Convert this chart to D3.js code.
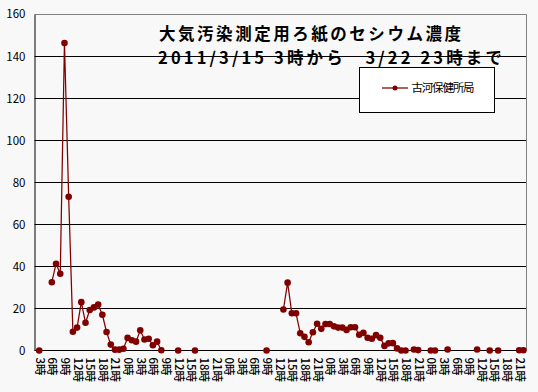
<!doctype html>
<meta charset="utf-8">
<head>
<script src="https://d3js.org/d3.v7.min.js"></script>
<style>
  body { margin: 0; background: #f8f8f8; }
  text { font-family: "Noto Sans CJK JP", sans-serif; }
</style>
</head>
<body>
<svg width="538" height="392"></svg>
<script>
    // hourly categories, 3/15 3時 onwards (null = no measurement)
    let startHour = 3;
    let seriesName = "古河保健所局";
    let titleLines = ["大気汚染測定用ろ紙のセシウム濃度", "2011/3/15 3時から　3/22 23時まで"];
    let yTicks = [0, 20, 40, 60, 80, 100, 120, 140, 160];

    let values = [
        0, null, null, 32.5, 41.3, 36.5, 146.3, 73.2, 8.9, 10.9,
        23, 13.2, 19.3, 20.5, 21.9, 17, 8.8, 2.8, 0.4, 0.4,
        0.8, 6, 4.9, 4.2, 9.6, 5.2, 5.6, 2.5, 4.2, 0.1,
        null, null, null, 0, null, null, null, 0, null, null,
        null, null, null, null, null, null, null, null, null, null,
        null, null, null, null, 0, null, null, null, 19.5, 32.3,
        17.7, 17.7, 8.2, 6.5, 3.9, 8.7, 12.7, 10.3, 12.6, 12.6,
        11.5, 10.9, 10.9, 9.8, 11.1, 11.1, 7.5, 8.4, 6.1, 5.6,
        7.3, 6.1, 2.2, 3.4, 3.5, 1.0, 0, 0, null, 0.5,
        0.2, null, null, 0, 0, null, null, 0.5, null, null,
        null, null, null, null, 0.5, null, null, 0, null, 0,
        null, null, null, null, 0.1, 0.1
    ];

    let categories = values.map((v, i) => i);
    let hourOf = (i) => (startHour + i) % 24;

    let svg = d3.select("svg");
    let plot = { left: 34.5, right: 526, top: 14.3, bottom: 350.5 };

    let x = d3.scalePoint()
        .domain(categories)
        .range([39.2, 523.4]);

    let y = d3.scaleLinear()
        .domain([0, 160])
        .range([plot.bottom, plot.top]);

    svg.append("rect")
        .attr("width", 538).attr("height", 392)
        .attr("fill", "#f8f8f8");

    // gridlines
    svg.append("g").selectAll("line")
        .data(yTicks.filter(t => t > 0 && t < 160))
        .enter().append("line")
        .attr("x1", plot.left).attr("x2", plot.right)
        .attr("y1", d => Math.round(y(d)) + 0.5)
        .attr("y2", d => Math.round(y(d)) + 0.5)
        .attr("stroke", "#000")
        .attr("stroke-width", 1);

    // plot border top/right (grey)
    svg.append("path")
        .attr("d", `M${plot.left} ${Math.round(plot.top) + 0.5} H${plot.right + 0.5} V${plot.bottom}`)
        .attr("fill", "none")
        .attr("stroke", "#808080");

    // y axis
    let yAxis = svg.append("g")
        .attr("transform", `translate(${plot.left},0)`)
        .call(d3.axisLeft(y).tickValues(yTicks).tickSize(0).tickPadding(9));
    yAxis.select(".domain").attr("stroke", "#000");
    yAxis.selectAll("text")
        .attr("font-size", 11.5)
        .attr("fill", "#000");

    // x axis
    let xAxis = svg.append("g")
        .attr("transform", `translate(0,${plot.bottom})`)
        .call(d3.axisBottom(x)
            .tickValues(categories.filter(i => i % 3 === 0))
            .tickFormat(i => hourOf(i) + "時")
            .tickSize(0));
    xAxis.select(".domain")
        .attr("d", `M${plot.left},0H${plot.right}`)
        .attr("stroke", "#000");
    xAxis.selectAll("text")
        .attr("font-size", 11.5)
        .attr("font-weight", 500)
        .attr("fill", "#000")
        .attr("x", 7)
        .attr("y", 0)
        .attr("dy", "0.35em")
        .attr("transform", "rotate(90)")
        .style("text-anchor", "start");

    // series
    let color = "#800000";
    let line = d3.line()
        .defined(d => d != null)
        .x((d, i) => x(i))
        .y(d => y(d));

    svg.append("path")
        .datum(values)
        .attr("fill", "none")
        .attr("stroke", color)
        .attr("stroke-width", 1.25)
        .attr("d", line);

    svg.append("g").selectAll("circle")
        .data(categories.filter(i => values[i] != null))
        .enter().append("circle")
        .attr("cx", i => x(i))
        .attr("cy", i => y(values[i]))
        .attr("r", 3.3)
        .attr("fill", color);

    // title
    let title = svg.append("g")
        .attr("font-weight", "bold")
        .attr("font-size", 16.5)
        .attr("fill", "#000");
    title.append("text")
        .attr("x", 159).attr("y", 40)
        .attr("textLength", 302)
        .attr("lengthAdjust", "spacing")
        .text(titleLines[0]);
    title.append("text")
        .attr("x", 158).attr("y", 64)
        .attr("textLength", 344)
        .attr("lengthAdjust", "spacing")
        .text(titleLines[1]);

    // legend
    let legend = svg.append("g").attr("transform", "translate(359.5,67.5)");
    legend.append("rect")
        .attr("width", 135).attr("height", 45)
        .attr("fill", "#fff")
        .attr("stroke", "#000");
    legend.append("line")
        .attr("x1", 22.5).attr("x2", 48.5)
        .attr("y1", 20.5).attr("y2", 20.5)
        .attr("stroke", color)
        .attr("stroke-width", 1.25);
    legend.append("circle")
        .attr("cx", 35.5).attr("cy", 20.5).attr("r", 2.5)
        .attr("fill", color);
    legend.append("text")
        .attr("x", 52).attr("y", 20.5)
        .attr("dy", "0.35em")
        .attr("font-size", 11.5)
        .attr("textLength", 63)
        .attr("lengthAdjust", "spacing")
        .text(seriesName);
</script>
</body>
